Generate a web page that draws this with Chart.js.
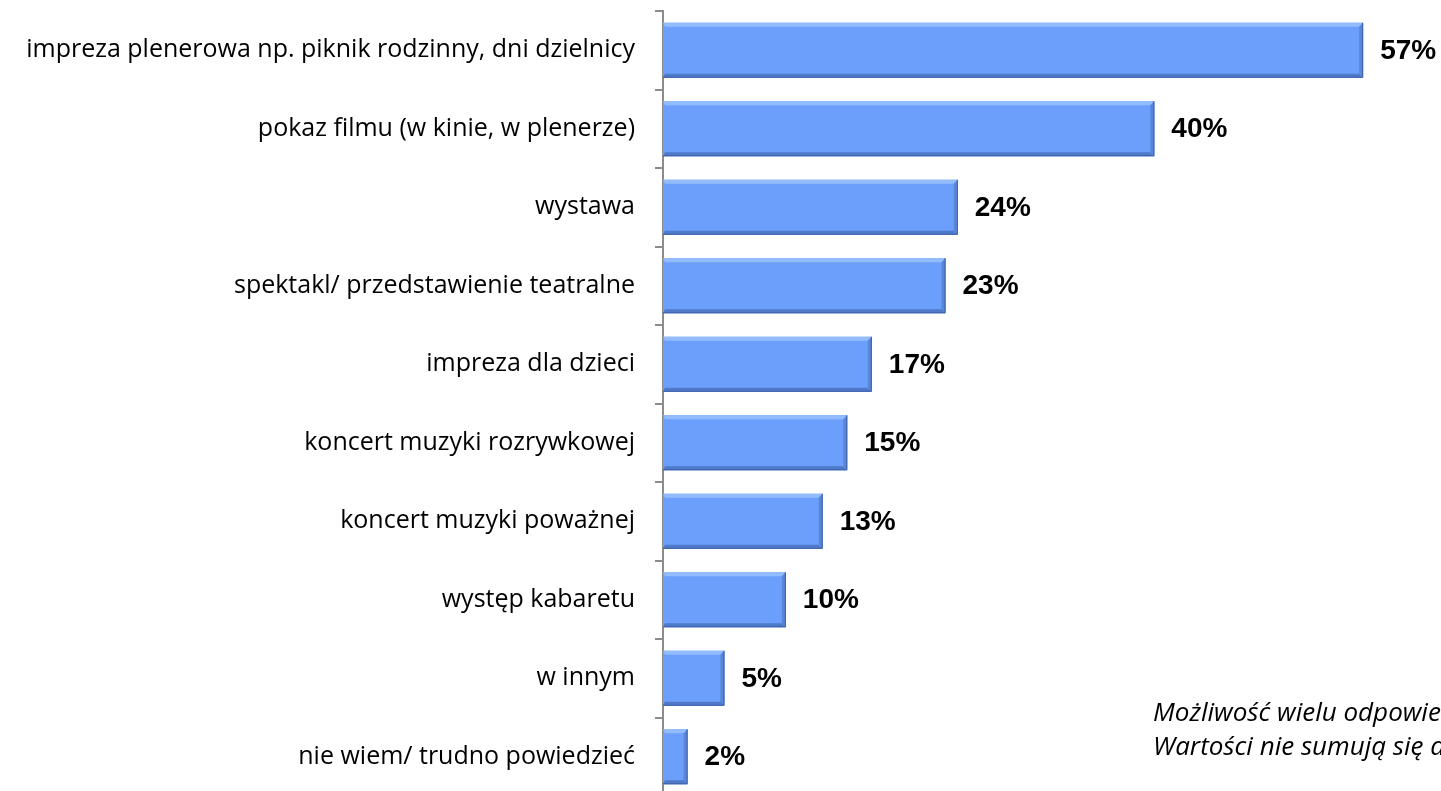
<!DOCTYPE html>
<html>
<head>
<meta charset="utf-8">
<script src="https://cdn.jsdelivr.net/npm/chart.js@4"></script>
<style>
	html, body { margin: 0; padding: 0; background: #fff; overflow: hidden; }
	#wrap { position: relative; width: 1441px; height: 796px; }
</style>
</head>
<body>
<div id="wrap"><canvas id="chart"></canvas></div>
<script>
const categories = [
	'impreza plenerowa np. piknik rodzinny, dni dzielnicy',
	'pokaz filmu (w kinie, w plenerze)',
	'wystawa',
	'spektakl/ przedstawienie teatralne',
	'impreza dla dzieci',
	'koncert muzyki rozrywkowej',
	'koncert muzyki poważnej',
	'występ kabaretu',
	'w innym',
	'nie wiem/ trudno powiedzieć'
];
const values = [57, 40, 24, 23, 17, 15, 13, 10, 5, 2];
const noteLines = ['Możliwość wielu odpowiedzi.', 'Wartości nie sumują się do 100%.'];

// bevel look of the bars + value labels + note
const barDecor = {
	id: 'barDecor',
	afterDatasetsDraw(chart) {
		const ctx = chart.ctx;
		const meta = chart.getDatasetMeta(0);
		meta.data.forEach((bar, i) => {
			const left = bar.base, right = bar.x;
			const top = bar.y - bar.height / 2, bottom = bar.y + bar.height / 2;
			const b = 4;
			ctx.save();
			// top highlight
			ctx.fillStyle = '#93bcff';
			ctx.beginPath();
			ctx.moveTo(left, top); ctx.lineTo(right, top);
			ctx.lineTo(right - b, top + b); ctx.lineTo(left + 2, top + b);
			ctx.closePath(); ctx.fill();
			// bottom shade
			ctx.fillStyle = '#4f79c9';
			ctx.beginPath();
			ctx.moveTo(left, bottom); ctx.lineTo(right, bottom);
			ctx.lineTo(right - b, bottom - b); ctx.lineTo(left + 2, bottom - b);
			ctx.closePath(); ctx.fill();
			// right shade
			ctx.fillStyle = '#5a86d8';
			ctx.beginPath();
			ctx.moveTo(right, top); ctx.lineTo(right, bottom);
			ctx.lineTo(right - b, bottom - b); ctx.lineTo(right - b, top + b);
			ctx.closePath(); ctx.fill();
			ctx.strokeStyle = '#3f62a8';
			ctx.lineWidth = 1;
			ctx.beginPath();
			ctx.moveTo(right - 0.5, top); ctx.lineTo(right - 0.5, bottom - 0.5); ctx.lineTo(left, bottom - 0.5);
			ctx.stroke();
			// value label
			ctx.fillStyle = '#000';
			ctx.font = 'bold 28px "Liberation Sans", Arial, sans-serif';
			ctx.textBaseline = 'middle';
			ctx.textAlign = 'left';
			ctx.fillText(values[i] + '%', right + 17, bar.y + 1);
			ctx.restore();
		});
		ctx.save();
		ctx.fillStyle = '#000';
		ctx.font = 'italic 26px "Open Sans", Lato, sans-serif';
		ctx.textBaseline = 'middle';
		ctx.fillText(noteLines[0], 1153, 714);
		ctx.fillText(noteLines[1], 1153, 748);
		ctx.restore();
	}
};

new Chart(document.getElementById('chart'), {
	type: 'bar',
	data: {
		labels: categories,
		datasets: [{
			data: values,
			backgroundColor: '#6c9ffc',
			borderWidth: 0,
			barPercentage: 0.7,
			categoryPercentage: 1.0
		}]
	},
	options: {
		indexAxis: 'y',
		responsive: true,
		maintainAspectRatio: false,
		animation: false,
		layout: { padding: { top: 11, right: 41, bottom: 0, left: 0 } },
		plugins: {
			legend: { display: false },
			tooltip: { enabled: false }
		},
		scales: {
			x: {
				display: false,
				min: 0,
				max: 60
			},
			y: {
				afterFit(scale) {
					scale.width = 663;
					scale.paddingTop = 0;
					scale.paddingBottom = 0;
				},
				border: { display: true, color: '#8c8c8c', width: 2 },
				grid: {
					display: true,
					offset: true,
					drawOnChartArea: false,
					drawTicks: true,
					tickLength: 8,
					color: '#8c8c8c',
					lineWidth: 2
				},
				ticks: {
					padding: 20,
					color: '#000',
					font: { family: '"Open Sans", Lato, sans-serif', size: 25 }
				}
			}
		}
	},
	plugins: [barDecor]
});
</script>
</body>
</html>
